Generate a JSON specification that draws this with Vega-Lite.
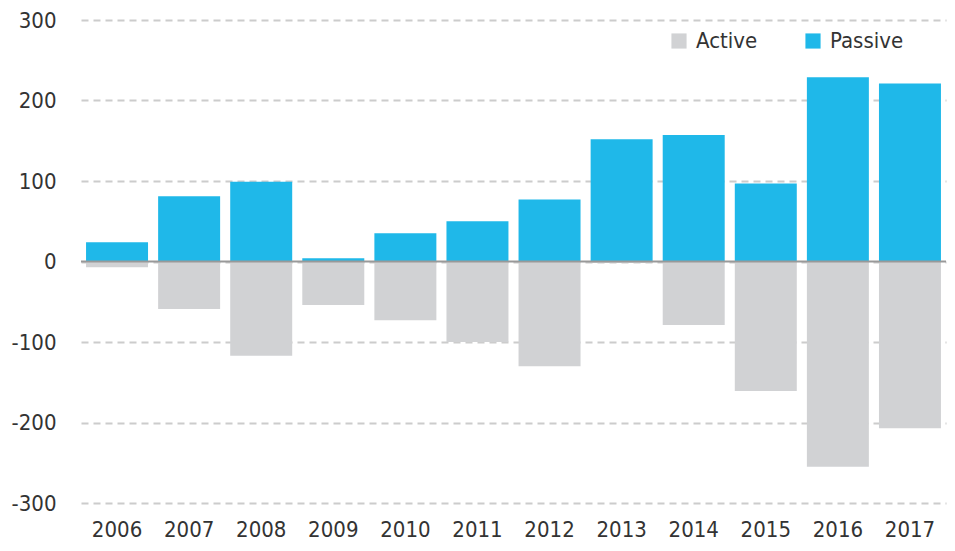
{
  "$schema": "https://vega.github.io/schema/vega-lite/v6.json",
  "width": 865,
  "height": 483,
  "autosize": {"type": "none"},
  "padding": {"left": 81, "top": 20, "right": 9, "bottom": 48},
  "background": "white",
  "config": {
    "view": {"stroke": null},
    "font": "DejaVu Sans Condensed, Roboto, sans-serif"
  },
  "data": {
    "values": [
      {"year": "2006", "type": "Active", "value": -7},
      {"year": "2007", "type": "Active", "value": -59},
      {"year": "2008", "type": "Active", "value": -117},
      {"year": "2009", "type": "Active", "value": -54},
      {"year": "2010", "type": "Active", "value": -73},
      {"year": "2011", "type": "Active", "value": -100},
      {"year": "2012", "type": "Active", "value": -130},
      {"year": "2013", "type": "Active", "value": -2},
      {"year": "2014", "type": "Active", "value": -79},
      {"year": "2015", "type": "Active", "value": -161},
      {"year": "2016", "type": "Active", "value": -255},
      {"year": "2017", "type": "Active", "value": -207},
      {"year": "2006", "type": "Passive", "value": 24},
      {"year": "2007", "type": "Passive", "value": 81},
      {"year": "2008", "type": "Passive", "value": 99},
      {"year": "2009", "type": "Passive", "value": 4},
      {"year": "2010", "type": "Passive", "value": 35},
      {"year": "2011", "type": "Passive", "value": 50},
      {"year": "2012", "type": "Passive", "value": 77},
      {"year": "2013", "type": "Passive", "value": 152},
      {"year": "2014", "type": "Passive", "value": 157},
      {"year": "2015", "type": "Passive", "value": 97},
      {"year": "2016", "type": "Passive", "value": 229},
      {"year": "2017", "type": "Passive", "value": 221}
    ]
  },
  "layer": [
    {
      "mark": {"type": "bar"},
      "encoding": {
        "x": {
          "field": "year", "type": "nominal",
          "scale": {"paddingInner": 0.14, "paddingOuter": 0.07},
          "axis": {
            "title": null, "domain": false, "ticks": false, "labelAngle": 0,
            "labelFontSize": 22, "labelColor": "#333333", "labelPadding": 16
          }
        },
        "y": {
          "field": "value", "type": "quantitative", "stack": null,
          "scale": {"domain": [-300, 300]},
          "axis": {
            "title": null, "domain": false, "ticks": false,
            "values": [-300, -200, -100, 0, 100, 200, 300],
            "labelExpr": "toString(datum.value)",
            "labelFontSize": 22, "labelColor": "#333333", "labelPadding": 25,
            "gridColor": "#cccccc", "gridDash": [7, 5], "gridWidth": 2
          }
        },
        "color": {
          "field": "type", "type": "nominal",
          "scale": {"domain": ["Active", "Passive"], "range": ["#d1d2d4", "#1fb8e9"]},
          "legend": {
            "title": null, "orient": "none", "direction": "horizontal",
            "legendX": 587, "legendY": 10,
            "symbolType": "square", "symbolSize": 230, "symbolStrokeWidth": 0,
            "labelFontSize": 22, "labelColor": "#333333", "labelOffset": 6,
            "columnPadding": 44
          }
        }
      }
    },
    {
      "data": {"values": [{"z": 0}]},
      "mark": {"type": "rule", "color": "#999999", "strokeWidth": 2},
      "encoding": {"y": {"field": "z", "type": "quantitative"}}
    }
  ]
}
